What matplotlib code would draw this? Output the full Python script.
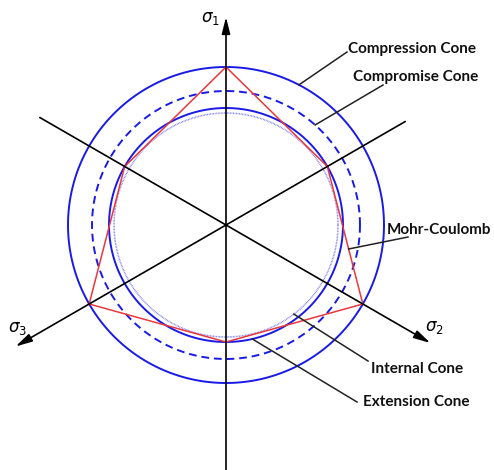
import numpy as np
import matplotlib.pyplot as plt

# cones in the deviatoric plane (radius in px, centre at origin)
cone_names = ["Compression Cone", "Compromise Cone", "Extension Cone", "Internal Cone"]
cone_radii = [158, 134, 117, 112]

# Mohr-Coulomb hexagon: vertex angles (deg) and radii
mc_angles = [90, 30, -30, -90, -150, 150, 90]
mc_radii = [158, 117, 158, 117, 158, 117, 158]

# principal stress axes
axis_labels = [r"$\sigma_1$", r"$\sigma_2$", r"$\sigma_3$"]
axis_angles = [90, -30, 210]
head_len = [208, 236, 243]
tail_len = [245, 215, 207]

blue = "#1a1ae6"
red = "#e8383d"

fig = plt.figure(figsize=(4.94, 4.70), dpi=100)
ax = fig.add_axes([0, 0, 1, 1])
ax.set_xlim(-226, 268)
ax.set_ylim(-245, 225)
ax.set_aspect("equal")
ax.axis("off")

t = np.linspace(0, 2 * np.pi, 400)
styles = [dict(ls="-", lw=1.4), dict(ls=(0, (4, 2.5)), lw=1.4),
          dict(ls="-", lw=1.4), dict(ls=(0, (0.5, 0.5)), lw=1.1, alpha=0.6)]
for r, st in zip(cone_radii, styles):
    ax.plot(r * np.cos(t), r * np.sin(t), color=blue, **st)

a = np.radians(mc_angles)
mr = np.array(mc_radii)
ax.plot(mr * np.cos(a), mr * np.sin(a), color=red, lw=1.1)

# axes with arrows
for lab, ang, hl, tl in zip(axis_labels, axis_angles, head_len, tail_len):
    th = np.radians(ang)
    d = np.array([np.cos(th), np.sin(th)])
    ax.annotate("", xy=hl * d, xytext=-tl * d,
                arrowprops=dict(arrowstyle="-|>,head_length=1.0,head_width=0.25",
                                color="black", lw=1.2, shrinkA=0, shrinkB=0))

ax.text(-16, 207, axis_labels[0], fontsize=12, ha="center", va="center")
ax.text(208, -102, axis_labels[1], fontsize=12, ha="center", va="center")
ax.text(-208, -103, axis_labels[2], fontsize=12, ha="center", va="center")

# leader lines: text, text position, leader start, point on curve
def on_circle(r, deg):
    return (r * np.cos(np.radians(deg)), r * np.sin(np.radians(deg)))

p0 = np.array(on_circle(117, 30))
p1 = np.array(on_circle(158, -30))
mc_pt = p0 + 0.6 * (p1 - p0)

leaders = [
    ("Compression Cone", (122, 176), (121, 173), on_circle(158, 62.5)),
    ("Compromise Cone", (127, 148), (157, 140), on_circle(134, 48.3)),
    ("Mohr-Coulomb", (161, -5), (182, -12), tuple(mc_pt)),
    ("Internal Cone", (145, -144), (142, -136), on_circle(112, -52.7)),
    ("Extension Cone", (137, -177), (131, -177), on_circle(117, -77)),
]
for txt, tp, ls, le in leaders:
    ax.plot([ls[0], le[0]], [ls[1], le[1]], color="#222222", lw=1.1)
    ax.text(tp[0], tp[1], txt, fontsize=11, fontweight="bold", family="Lato",
            ha="left", va="center", color="#111111")

fig.savefig("out.png", dpi=100)
